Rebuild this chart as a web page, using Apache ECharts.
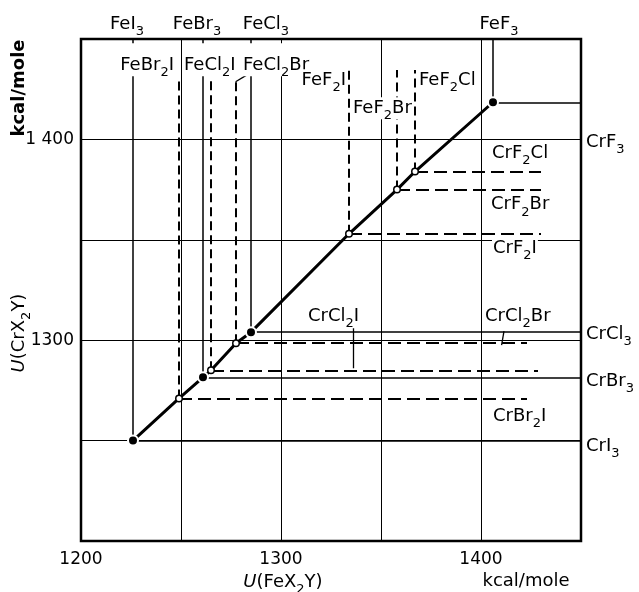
<!DOCTYPE html>
<html>
<head>
<meta charset="utf-8">
<script src="https://cdn.jsdelivr.net/npm/echarts@6/dist/echarts.min.js"></script>
<style>
  html, body { margin: 0; padding: 0; background: #fff; }
  #chart { width: 639px; height: 592px; }
</style>
</head>
<body>
<div id="chart"></div>
<script>
// lattice energies, kcal/mole
var feNames = ["FeI3", "FeBr2I", "FeBr3", "FeCl2I", "FeCl2Br", "FeCl3", "FeF2I", "FeF2Br", "FeF2Cl", "FeF3"];
var crNames = ["CrI3", "CrBr2I", "CrBr3", "CrCl2I", "CrCl2Br", "CrCl3", "CrF2I", "CrF2Br", "CrF2Cl", "CrF3"];
var feValues = [1226, 1249, 1261, 1265, 1277.5, 1285, 1334, 1358, 1367, 1406];
var crValues = [1250, 1271, 1281.5, 1285, 1298.5, 1304, 1353, 1375, 1384, 1418.5];
var isMixed = [false, true, false, true, true, false, true, true, true, false];
// where the guide lines stop (top of vertical, right end of horizontal)
var vLineTop = [1450, 1429.5, 1450, 1430, 1428.5, 1450, 1434.5, 1434.5, 1434.5, 1450];
var hLineEnd = [1450, 1423, 1450, 1428.5, 1423, 1450, 1430, 1430, 1430, 1450];

// tick labels
var xTickValues = [1200, 1300, 1400];
var xTickText = ["1200", "1300", "1400"];
var yTickValues = [1300, 1400];
var yTickText = ["1300", "1 400"];

// labels on top / right of the frame (pure trihalides)
var topNames = ["FeI3", "FeBr3", "FeCl3", "FeF3"];
var topLabelAt = [1223, 1258, 1292.5, 1409];
var rightNames = ["CrF3", "CrCl3", "CrBr3", "CrI3"];
var rightLabelAt = [1398.5, 1303, 1279.5, 1247];

// labels inside the frame
var innerNames = ["FeBr2I", "FeCl2I", "FeCl2Br", "FeF2I", "FeF2Br", "FeF2Cl", "CrF2Cl", "CrF2Br", "CrF2I", "CrCl2I", "CrCl2Br", "CrBr2I"];
var innerX = [1247, 1251, 1280.5, 1333, 1335.5, 1368.5, 1405, 1404.5, 1405.5, 1313, 1401.5, 1405.5];
var innerY = [1431.5, 1431.5, 1431.5, 1429.5, 1415.5, 1429.5, 1393, 1367.5, 1346, 1312, 1312, 1262];
var innerAlign = ["right", "left", "left", "right", "left", "left", "left", "left", "left", "left", "left", "left"];
var innerVAlign = ["bottom", "bottom", "bottom", "middle", "middle", "middle", "middle", "middle", "middle", "middle", "middle", "middle"];
var innerPadTop = [11, 11, 11, 0, 0, 0, 0, 0, 0, 0, 0, 0];

// little leader strokes
var leaders = [
  [[1277.3, 1428.7], [1282.8, 1432]],
  [[1336, 1306], [1336, 1286]],
  [[1411.5, 1304.5], [1410.3, 1297.5]]
];

var FONT = "DejaVu Sans";
var rich = {
  s: { fontSize: 13, fontFamily: FONT, color: "#000", lineHeight: 13, padding: [15, 0, 0, 0] },
  i: { fontSize: 18, fontFamily: FONT, color: "#000", fontStyle: "italic", lineHeight: 22 }
};
function chem(name) {
  return name.replace(/(\d)/g, "{s|$1}");
}

var myChart = echarts.init(document.getElementById("chart"));

var points = [];
var vLines = [];
var hLines = [];
for (var i = 0; i < feValues.length; i++) {
  var dashed = isMixed[i];
  vLines.push({
    coords: [[feValues[i], crValues[i]], [feValues[i], vLineTop[i]]],
    lineStyle: { color: "#000", opacity: 1, width: dashed ? 2 : 1.5, type: dashed ? [9, 5] : "solid" }
  });
  hLines.push({
    coords: [[feValues[i], crValues[i]], [hLineEnd[i], crValues[i]]],
    lineStyle: { color: "#000", opacity: 1, width: dashed ? 2 : 1.5, type: dashed ? [13, 6] : "solid" }
  });
  points.push({
    value: [feValues[i], crValues[i]],
    symbolSize: dashed ? 6.5 : 10,
    itemStyle: dashed
      ? { color: "#fff", borderColor: "#000", borderWidth: 1.5, opacity: 1 }
      : { color: "#000", borderColor: "#fff", borderWidth: 2, opacity: 1 }
  });
}

var labelData = [];
for (var j = 0; j < innerNames.length; j++) {
  labelData.push({
    value: [innerX[j], innerY[j]],
    label: {
      formatter: chem(innerNames[j]),
      align: innerAlign[j],
      verticalAlign: innerVAlign[j],
      padding: [innerPadTop[j], 1, 0, 1]
    }
  });
}

var option = {
  animation: false,
  backgroundColor: "#fff",
  grid: { left: 81, right: 58, top: 39, bottom: 51, show: true, borderColor: "#000", borderWidth: 2.5 },
  xAxis: [
    {
      type: "value", min: 1200, max: 1450, interval: 50,
      axisLine: { show: false }, axisTick: { show: false },
      splitLine: { show: true, lineStyle: { color: "#000", width: 1 } },
      axisLabel: {
        customValues: xTickValues, margin: 10, color: "#000", fontSize: 17, fontFamily: FONT,
        formatter: function (v) { return xTickText[xTickValues.indexOf(v)]; }
      }
    },
    {
      type: "value", position: "top", min: 1200, max: 1450,
      axisLine: { show: false }, axisTick: { show: false }, splitLine: { show: false },
      axisLabel: {
        customValues: topLabelAt, margin: 4, color: "#000", fontSize: 18, fontFamily: FONT, rich: rich,
        lineHeight: 22,
        formatter: function (v) { return chem(topNames[topLabelAt.indexOf(v)]); }
      }
    }
  ],
  yAxis: [
    {
      type: "value", min: 1200, max: 1450, interval: 50,
      axisLine: { show: false }, axisTick: { show: false },
      splitLine: { show: true, lineStyle: { color: "#000", width: 1 } },
      axisLabel: {
        customValues: yTickValues, margin: 7, color: "#000", fontSize: 17, fontFamily: FONT,
        formatter: function (v) { return yTickText[yTickValues.indexOf(v)]; }
      }
    },
    {
      type: "value", position: "right", min: 1200, max: 1450,
      axisLine: { show: false }, axisTick: { show: false }, splitLine: { show: false },
      axisLabel: {
        customValues: rightLabelAt, margin: 5, color: "#000", fontSize: 18, fontFamily: FONT, rich: rich,
        lineHeight: 22,
        formatter: function (v) { return chem(rightNames[rightLabelAt.indexOf(v)]); }
      }
    }
  ],
  series: [
    {
      type: "lines", coordinateSystem: "cartesian2d", z: 2, silent: true,
      lineStyle: { opacity: 1 },
      data: vLines.concat(hLines)
    },
    {
      type: "lines", coordinateSystem: "cartesian2d", z: 2, silent: true,
      lineStyle: { color: "#000", width: 1.3, opacity: 1 },
      data: leaders.map(function (c) { return { coords: c }; })
    },
    {
      type: "line", z: 3, silent: true, showSymbol: false,
      lineStyle: { color: "#000", width: 3 },
      data: feValues.map(function (v, k) { return [v, crValues[k]]; })
    },
    {
      type: "scatter", z: 4, silent: true, symbol: "circle",
      itemStyle: { opacity: 1 },
      data: points
    },
    {
      type: "scatter", z: 5, silent: true, symbolSize: 0,
      itemStyle: { opacity: 1 },
      label: {
        show: true, position: "inside",
        color: "#000", fontSize: 18, fontFamily: FONT, lineHeight: 22,
        backgroundColor: "#fff", rich: rich
      },
      data: labelData
    }
  ],
  graphic: [
    {
      type: "text", x: 19, y: 88, rotation: Math.PI / 2,
      style: { text: "kcal/mole", fontSize: 18, fontFamily: FONT, fontWeight: "bold", fill: "#000", align: "center", verticalAlign: "middle" }
    },
    {
      type: "text", x: 19, y: 333, rotation: Math.PI / 2,
      style: { text: "{i|U}(CrX{s|2}Y)", rich: rich, fontSize: 18, fontFamily: FONT, fill: "#000", align: "center", verticalAlign: "middle" }
    },
    {
      type: "text", x: 283, y: 582,
      style: { text: "{i|U}(FeX{s|2}Y)", rich: rich, fontSize: 18, fontFamily: FONT, fill: "#000", align: "center", verticalAlign: "middle" }
    },
    {
      type: "text", x: 526, y: 581,
      style: { text: "kcal/mole", fontSize: 18, fontFamily: FONT, fill: "#000", align: "center", verticalAlign: "middle" }
    }
  ]
};

myChart.setOption(option);
window.addEventListener("resize", function () {
  myChart.resize();
});
</script>
</body>
</html>
